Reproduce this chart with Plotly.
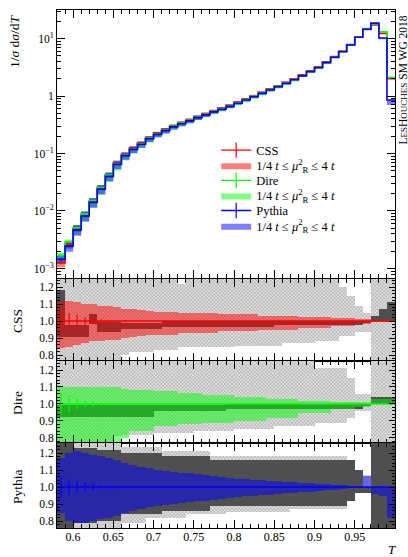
import plotly.graph_objects as go

# ---------------- data ----------------
edges = [0.58, 0.59, 0.60, 0.61, 0.62, 0.63, 0.64, 0.65, 0.66, 0.67, 0.68, 0.69, 0.70,
         0.71, 0.72, 0.73, 0.74, 0.75, 0.76, 0.77, 0.78, 0.79, 0.80, 0.81, 0.82, 0.83,
         0.84, 0.85, 0.86, 0.87, 0.88, 0.89, 0.90, 0.91, 0.92, 0.93, 0.94, 0.95, 0.96,
         0.97, 0.98, 0.99, 1.00]

css_vals = [1.25e-3, 2.65e-3, 5.0e-3, 8.8e-3, 1.5e-2, 2.55e-2, 4.25e-2, 6.8e-2, 9.7e-2,
            0.124, 0.152, 0.189, 0.226, 0.263, 0.304, 0.346, 0.388, 0.44, 0.493, 0.555,
            0.618, 0.69, 0.785, 0.89, 1.01, 1.16, 1.33, 1.51, 1.73, 2.0, 2.33, 2.75, 3.22,
            3.93, 4.85, 6.05, 7.85, 10.6, 14.4, 17.3, 12.3, 2.0]
dire_vals = [1.7e-3, 2.9e-3, 5.1e-3, 8.9e-3, 1.52e-2, 2.55e-2, 4.2e-2, 6.6e-2, 9.4e-2,
             0.12, 0.148, 0.184, 0.22, 0.256, 0.296, 0.337, 0.378, 0.43, 0.48, 0.54,
             0.602, 0.672, 0.765, 0.865, 0.985, 1.13, 1.29, 1.47, 1.68, 1.94, 2.26, 2.66,
             3.12, 3.82, 4.72, 5.92, 7.7, 10.5, 14.6, 18.0, 13.1, 2.1]
pythia_vals = [1.45e-3, 2.45e-3, 4.7e-3, 8.2e-3, 1.42e-2, 2.4e-2, 4.0e-2, 6.5e-2, 9.2e-2,
               0.118, 0.145, 0.18, 0.215, 0.25, 0.29, 0.33, 0.37, 0.42, 0.47, 0.53,
               0.59, 0.66, 0.75, 0.85, 0.97, 1.11, 1.27, 1.45, 1.66, 1.92, 2.24, 2.65,
               3.1, 3.8, 4.7, 5.9, 7.7, 10.5, 14.5, 18.5, 10.2, 0.85]

# relative statistical errors
css_err = [0.05, 0.045, 0.04, 0.024, 0.015, 0.01, 0.008, 0.006, 0.005, 0.004, 0.004, 0.003,
           0.003, 0.003, 0.003, 0.003] + [0.002] * 26
dire_err = [0.06, 0.047, 0.03, 0.02, 0.014, 0.01, 0.008, 0.006, 0.005, 0.004, 0.004, 0.003,
            0.003, 0.003, 0.003, 0.003] + [0.002] * 26
pythia_err = [0.06, 0.046, 0.035, 0.025, 0.018, 0.012, 0.01, 0.008, 0.006, 0.005, 0.004,
              0.004, 0.003, 0.003, 0.003, 0.003] + [0.002] * 26

# scale-variation bands (ratio to own central value)
css_band_lo = [0.84, 0.85, 0.86, 0.87, 0.88, 0.88, 0.89, 0.89, 0.90, 0.905, 0.91, 0.915, 0.92,
               0.92, 0.92] + [0.93] * 5 + [0.94] * 5 + [0.95] * 5 + [0.96] * 4 + [0.97] * 3 \
              + [0.985] * 2 + [0.995] * 3
css_band_hi = [1.11, 1.12, 1.11, 1.10, 1.10, 1.09, 1.09, 1.08, 1.07, 1.07, 1.065, 1.06, 1.055,
               1.055, 1.055] + [1.05] * 5 + [1.04] * 5 + [1.03] * 5 + [1.025] * 4 + [1.015] * 3 \
              + [1.01] * 2 + [1.005] * 3
dire_band_lo = [0.76] * 8 + [0.80] + [0.84] * 3 + [0.87] * 3 + [0.88] * 3 + [0.89] * 4 \
               + [0.90] * 4 + [0.92] * 4 + [0.945] * 4 + [0.97] * 3 + [0.985] * 2 + [1.0] * 3
dire_band_hi = [1.10] * 8 + [1.09] + [1.085] * 3 + [1.075] * 3 + [1.065] * 3 + [1.055] * 4 \
               + [1.04] * 4 + [1.03] * 4 + [1.02] * 4 + [1.01] * 3 + [1.01] * 2 + [1.03] * 3
pythia_band_lo = [0.85, 0.80, 0.79, 0.79, 0.80, 0.81, 0.82, 0.83, 0.85, 0.86, 0.87, 0.88, 0.89,
                  0.895, 0.90, 0.905, 0.91, 0.915, 0.92, 0.925, 0.93, 0.935, 0.94, 0.945, 0.95,
                  0.953, 0.956, 0.96, 0.963, 0.966, 0.97, 0.973, 0.977, 0.98, 0.985, 0.99,
                  0.993, 0.995, 1.0, 0.96, 0.95, 0.82]
pythia_band_hi = [1.17, 1.20, 1.21, 1.20, 1.19, 1.18, 1.17, 1.16, 1.14, 1.13, 1.12, 1.11, 1.10,
                  1.095, 1.09, 1.085, 1.08, 1.075, 1.07, 1.065, 1.06, 1.055, 1.05, 1.047, 1.044,
                  1.041, 1.038, 1.035, 1.032, 1.029, 1.026, 1.023, 1.02, 1.017, 1.014, 1.01,
                  1.007, 1.005, 1.065, 1.0, 1.0, 1.0]

# total envelope (hatched) and spread of other generators (dark), per ratio panel
css_hatch_lo = [0.70] * 8 + [0.80] + [0.82] * 3 + [0.83] * 3 + [0.845] * 7 + [0.855] * 6 \
               + [0.87] * 4 + [0.885] * 3 + [0.91] * 2 + [0.935] * 2 + [0.70] * 3
css_hatch_hi = [1.3] * 15 + [1.22] + [1.3] * 19 + [1.2, 1.15, 1.09, 1.05] + [1.3] * 3
css_dark_lo = [0.905, 0.905, 0.905, 0.905, 0.985, 0.935, 0.935, 0.935] + [0.955] * 5 \
              + [0.965] * 14 + [0.975] * 11 + [0.99] + [1.0] * 3
css_dark_hi = [1.18, 0.975, 0.975, 0.975, 1.04, 0.995, 0.995, 0.995] + [0.99] * 5 \
              + [1.0] * 14 + [1.0] * 11 + [1.0] + [1.03, 1.07, 1.11]

dire_hatch_lo = [0.70] * 7 + [0.81] + [0.82] * 4 + [0.83] * 5 + [0.84] * 5 + [0.85] * 5 \
                + [0.87] * 5 + [0.89] * 4 + [0.92] + [0.96] * 2 + [0.70] * 3
dire_hatch_hi = [1.3] * 32 + [1.21] * 4 + [1.15] + [1.06] * 2 + [1.3] * 3
dire_dark_lo = [0.925] * 12 + [0.96] * 9 + [0.97] * 17 + [0.99] + [1.0] * 3
dire_dark_hi = [0.995] * 12 + [0.995] * 9 + [0.998] * 17 + [1.0] + [1.04] * 3

pythia_hatch_lo = [0.70] * 8 + [0.79] * 3 + [0.82] * 5 + [0.84] * 5 + [0.855] * 8 \
                  + [0.87] * 7 + [0.92] + [0.965] * 2 + [0.70] * 3
pythia_hatch_hi = [1.3] * 8 + [1.235] * 5 + [1.21] * 6 + [1.18] * 17 + [1.16] + [1.10] \
                  + [1.07] + [1.3] * 3
pythia_dark_lo = [0.70] * 2 + [0.79] * 3 + [0.80] * 3 + [0.84] * 5 + [0.86] * 6 + [0.89] * 17 \
                 + [0.92] + [0.965] * 2 + [0.70] * 3
pythia_dark_hi = [1.3] * 2 + [1.23] * 3 + [1.22] * 3 + [1.20] * 5 + [1.18] * 6 + [1.16] * 17 \
                 + [1.16] + [1.10] + [1.0] + [1.3] * 3

x_tick_vals = [0.6, 0.65, 0.7, 0.75, 0.8, 0.85, 0.9, 0.95]
x_tick_text = ["0.6", "0.65", "0.7", "0.75", "0.8", "0.85", "0.9", "0.95"]
y_tick_vals = [1e-3, 1e-2, 1e-1, 1, 10]
y_tick_text = ["10<sup>−3</sup>", "10<sup>−2</sup>", "10<sup>−1</sup>", "1", "10<sup>1</sup>"]
ratio_tick_vals = [0.8, 0.9, 1.0, 1.1, 1.2]
ratio_tick_text = ["0.8", "0.9", "1.0", "1.1", "1.2"]

band_label = "1/4 <i>t</i> ≤ <i>μ</i><sup>2</sup><sub>R</sub> ≤ 4 <i>t</i>"

# ---------------- figure ----------------
centers = [(a + b) / 2 for a, b in zip(edges[:-1], edges[1:])]
widths = [b - a for a, b in zip(edges[:-1], edges[1:])]


def step(v):
    return list(v) + [v[-1]]


gens = [
    dict(name="CSS", vals=css_vals, err=css_err, lo=css_band_lo, hi=css_band_hi,
         color="#ff0000", band="rgba(255,0,0,0.5)",
         hlo=css_hatch_lo, hhi=css_hatch_hi, dlo=css_dark_lo, dhi=css_dark_hi),
    dict(name="Dire", vals=dire_vals, err=dire_err, lo=dire_band_lo, hi=dire_band_hi,
         color="#00ff00", band="rgba(0,255,0,0.5)",
         hlo=dire_hatch_lo, hhi=dire_hatch_hi, dlo=dire_dark_lo, dhi=dire_dark_hi),
    dict(name="Pythia", vals=pythia_vals, err=pythia_err, lo=pythia_band_lo, hi=pythia_band_hi,
         color="#0000ff", band="rgba(0,0,255,0.5)",
         hlo=pythia_hatch_lo, hhi=pythia_hatch_hi, dlo=pythia_dark_lo, dhi=pythia_dark_hi),
]


def legend_name(i):
    return "legend" if i == 0 else "legend%d" % (i + 1)


fig = go.Figure()

# main panel bands
for k, g in enumerate(gens):
    lo = [v * r for v, r in zip(g["vals"], g["lo"])]
    hi = [v * r for v, r in zip(g["vals"], g["hi"])]
    fig.add_trace(go.Scatter(x=edges, y=step(lo), mode="lines", line=dict(width=0, shape="hv"),
                             showlegend=False, hoverinfo="skip", xaxis="x", yaxis="y"))
    fig.add_trace(go.Scatter(x=edges, y=step(hi), mode="lines", line=dict(width=0, shape="hv"),
                             fill="tonexty", fillcolor=g["band"], name=band_label,
                             showlegend=True, legend=legend_name(2 * k + 1), hoverinfo="skip",
                             xaxis="x", yaxis="y"))
# main panel lines
for k, g in enumerate(gens):
    fig.add_trace(go.Scatter(x=edges, y=step(g["vals"]), mode="lines",
                             line=dict(color=g["color"], width=1.6, shape="hv"),
                             showlegend=False, hoverinfo="skip", xaxis="x", yaxis="y"))
    fig.add_trace(go.Scatter(x=centers, y=g["vals"], mode="markers",
                             marker=dict(size=0.1, color=g["color"]),
                             error_y=dict(type="data", array=[v * e for v, e in zip(g["vals"], g["err"])],
                                          color=g["color"], thickness=1.2, width=0),
                             showlegend=False, hoverinfo="skip", xaxis="x", yaxis="y"))
    # legend entry (line with error-bar tick)
    fig.add_trace(go.Scatter(x=[None], y=[None], mode="lines+markers", name=g["name"],
                             line=dict(color=g["color"], width=1.4),
                             marker=dict(symbol="line-ns", size=11,
                                         line=dict(color=g["color"], width=1.2)),
                             legend=legend_name(2 * k), xaxis="x", yaxis="y"))

# ratio panels
for k, g in enumerate(gens):
    ax = str(k + 2)
    xa, ya = "x" + ax, "y" + ax
    fig.add_trace(go.Bar(x=centers, base=g["hlo"], y=[h - l for h, l in zip(g["hhi"], g["hlo"])],
                         width=widths,
                         marker=dict(color="#e2e2e2", line=dict(width=0),
                                     pattern=dict(shape="x", fgcolor="#808080", bgcolor="#e2e2e2",
                                                  size=2.5, solidity=0.5)),
                         showlegend=False, hoverinfo="skip", xaxis=xa, yaxis=ya))
    fig.add_trace(go.Bar(x=centers, base=g["dlo"], y=[h - l for h, l in zip(g["dhi"], g["dlo"])],
                         width=widths, marker=dict(color="#4f4f4f", line=dict(width=0)),
                         showlegend=False, hoverinfo="skip", xaxis=xa, yaxis=ya))
    fig.add_trace(go.Bar(x=centers, base=g["lo"], y=[h - l for h, l in zip(g["hi"], g["lo"])],
                         width=widths, marker=dict(color=g["band"], line=dict(width=0)),
                         showlegend=False, hoverinfo="skip", xaxis=xa, yaxis=ya))
    ratio = [v / v for v in g["vals"]]
    fig.add_trace(go.Scatter(x=edges, y=step(ratio), mode="lines",
                             line=dict(color=g["color"], width=1.6, shape="hv"),
                             showlegend=False, hoverinfo="skip", xaxis=xa, yaxis=ya))
    fig.add_trace(go.Scatter(x=centers, y=ratio, mode="markers",
                             marker=dict(size=0.1, color=g["color"]),
                             error_y=dict(type="data", array=g["err"], color=g["color"],
                                          thickness=1.2, width=0),
                             showlegend=False, hoverinfo="skip", xaxis=xa, yaxis=ya))

FONT = "Liberation Serif"
H = 518.0


def dom(top_px, bot_px):
    return [(528 - bot_px) / H, (528 - top_px) / H]


xcommon = dict(range=[0.58, 1.0], showgrid=False, zeroline=False, showline=True,
               linecolor="black", linewidth=1, mirror="ticks", ticks="inside", ticklen=8,
               tickwidth=1, tickcolor="black", tickvals=x_tick_vals, ticktext=x_tick_text,
               minor=dict(ticks="inside", ticklen=4, dtick=0.01, tick0=0.58, tickcolor="black",
                          showgrid=False),
               tickfont=dict(family=FONT, size=12))

ycommon = dict(showgrid=False, zeroline=False, showline=True, linecolor="black", linewidth=1,
               mirror="ticks", ticks="inside", tickcolor="black",
               tickfont=dict(family=FONT, size=11.5))

minor_log = [m * 10 ** e for e in range(-4, 2) for m in range(2, 10)]

layout = dict(
    width=408, height=557,
    margin=dict(l=57, r=13, t=10, b=29),
    paper_bgcolor="white", plot_bgcolor="white",
    font=dict(family=FONT, size=12, color="black"),
    barmode="overlay", bargap=0,
    showlegend=True,
    xaxis=dict(xcommon, domain=[0, 1], anchor="y", showticklabels=False),
    yaxis=dict(ycommon, domain=dom(10, 277.5), anchor="x", type="log", range=[-3.157, 1.496],
               tickvals=y_tick_vals, ticktext=y_tick_text, ticklen=8,
               minor=dict(ticks="inside", ticklen=4, tickvals=minor_log, tickcolor="black",
                          showgrid=False)),
)
for i in range(6):
    top_px = 135.5 + 15.1 * i
    layout[legend_name(i)] = dict(x=0.471, y=(528 - top_px) / H, xanchor="left", yanchor="top",
                                  bgcolor="rgba(0,0,0,0)", font=dict(family=FONT, size=12.5),
                                  itemwidth=30, tracegroupgap=0)
ranges = [[0.765, 1.247], [0.77, 1.253], [0.759, 1.259]]
doms = [dom(279, 361), dom(361, 443), dom(443, 528)]
for k in range(3):
    ax = str(k + 2)
    layout["xaxis" + ax] = dict(xcommon, domain=[0, 1], anchor="y" + ax, matches="x",
                                showticklabels=(k == 2), ticklabelstandoff=-2)
    layout["yaxis" + ax] = dict(ycommon, domain=doms[k], anchor="x" + ax, range=ranges[k],
                                tickvals=ratio_tick_vals, ticktext=ratio_tick_text, ticklen=6,
                                minor=dict(ticks="inside", ticklen=3, dtick=0.02, tick0=0.0,
                                           tickcolor="black", showgrid=False))
fig.update_layout(**layout)

ann = []
ann.append(dict(text="1/<i>σ</i> d<i>σ</i>/d<i>T</i>", xref="paper", yref="paper", x=0,
                y=(528 - 41) / H, xshift=-43, textangle=-90, showarrow=False,
                font=dict(family=FONT, size=13.5), xanchor="center", yanchor="middle"))
for name, cy in [("CSS", 321), ("Dire", 403), ("Pythia", 487)]:
    ann.append(dict(text=name, xref="paper", yref="paper", x=0, y=(528 - cy) / H, xshift=-40,
                    textangle=-90, showarrow=False, font=dict(family=FONT, size=13.5),
                    xanchor="center", yanchor="middle"))
ann.append(dict(text="<i>T</i>", xref="paper", yref="paper", x=1, y=0, xshift=-3, yshift=-21,
                showarrow=False, font=dict(family=FONT, size=13), xanchor="center",
                yanchor="middle"))
ann.append(dict(text="L<span style='font-size:9px'>ES</span>H<span style='font-size:9px'>OUCHES</span> SM WG 2018",
                xref="paper", yref="paper", x=1, y=(528 - 80) / H, xshift=7.5, textangle=-90,
                showarrow=False, font=dict(family=FONT, size=11.5), xanchor="center",
                yanchor="middle"))
fig.update_layout(annotations=ann)

fig.write_html("out.html", config={"displayModeBar": False},
               post_script="document.body.style.margin='0';")
